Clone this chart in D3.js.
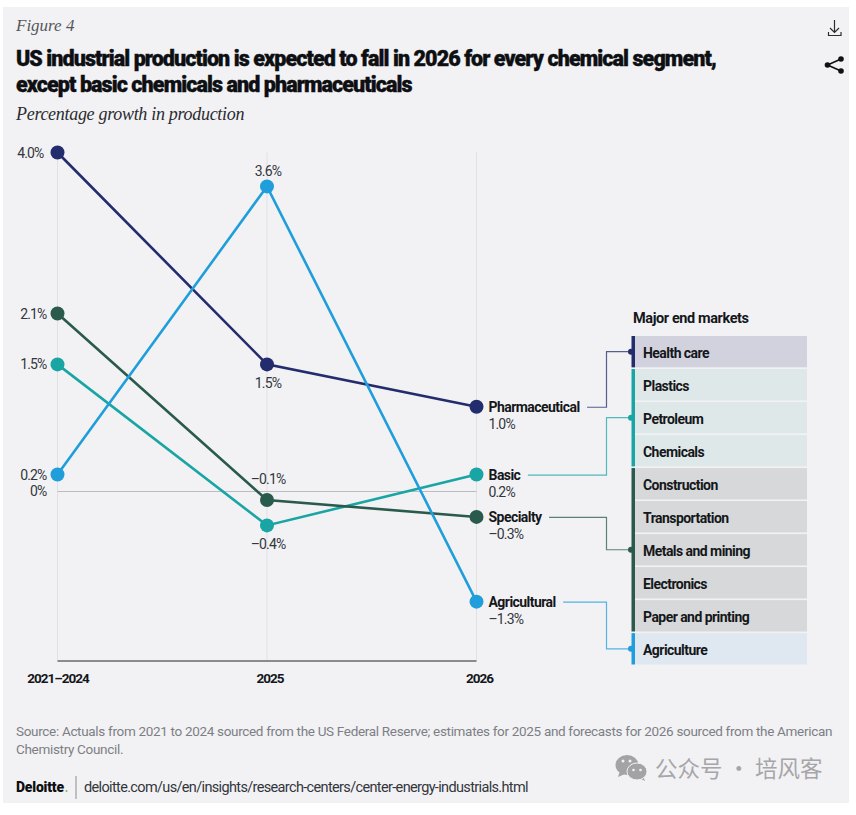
<!DOCTYPE html>
<html>
<head>
<meta charset="utf-8">
<script src="https://cdn.jsdelivr.net/npm/d3@7"></script>
<style>
  html, body { margin: 0; padding: 0; background: #fff; }
  svg { display: block; }
  text { font-family: Roboto, "Liberation Sans", sans-serif; fill: #1c1f24; }
  .serif { font-family: "Liberation Serif", serif; font-style: italic; }
  .domain { display: none; }
</style>
</head>
<body>
<svg id="chart" width="856" height="815"></svg>
<script>
// data
const periods = ["2021–2024", "2025", "2026"]
const segments = ["Pharmaceutical", "Basic", "Specialty", "Agricultural"]
const pharmaceutical = [4.0, 1.5, 1.0]
const basic = [1.5, -0.4, 0.2]
const specialty = [2.1, -0.1, -0.3]
const agricultural = [0.2, 3.6, -1.3]
const markets = ["Health care", "Plastics", "Petroleum", "Chemicals", "Construction",
  "Transportation", "Metals and mining", "Electronics", "Paper and printing", "Agriculture"]
const marketGroups = [["Health care"], ["Plastics", "Petroleum", "Chemicals"],
  ["Construction", "Transportation", "Metals and mining", "Electronics", "Paper and printing"],
  ["Agriculture"]]

const seriesValues = [pharmaceutical, basic, specialty, agricultural]
const colors = ["#232c6c", "#1aa5a5", "#2a5a4b", "#1f9edb"]
const cellFills = ["#d2d2df", "#dfe8e9", "#d6d8d9", "#dfe7f1"]
// label offsets per series: gap left of the first dot, dy of the 2025 label
const firstLabelGap = [14, 11, 11, 11]
const midLabelDy = [24, 24, -16, -10]

const svg = d3.select("#chart")

function fmt(v) {
    return (v < 0 ? "–" : "") + Math.abs(v).toFixed(1) + "%"
}

svg.append("rect").attr("x", 3).attr("y", 7).attr("width", 846).attr("height", 796).attr("fill", "#f2f2f5")

// heading
svg.append("text").attr("class", "serif").attr("x", 16).attr("y", 31)
    .attr("font-size", 17).style("fill", "#55575c").text("Figure 4")
const titleLines = ["US industrial production is expected to fall in 2026 for every chemical segment,",
    "except basic chemicals and pharmaceuticals"]
svg.selectAll(".title").data(titleLines).join("text").attr("class", "title")
    .attr("x", 16).attr("y", (d, i) => 65.5 + i * 26)
    .attr("font-size", 21.5).attr("font-weight", 900).attr("letter-spacing", -0.92)
    .attr("stroke", "#0d0f12").attr("stroke-width", 0.4)
    .style("fill", "#0d0f12").text(d => d)
svg.append("text").attr("class", "serif").attr("x", 16).attr("y", 120)
    .attr("font-size", 18).attr("letter-spacing", -0.3).style("fill", "#2a2c30").text("Percentage growth in production")

// scales
const x = d3.scalePoint().domain(periods).range([57.5, 476.5])
const y = d3.scaleLinear().domain([-2, 4]).range([661, 152.5])

// vertical guides
svg.selectAll(".guide").data(periods).join("line").attr("class", "guide")
    .attr("x1", d => x(d)).attr("x2", d => x(d))
    .attr("y1", y(4)).attr("y2", y(-2))
    .attr("stroke", "#e1e1e5").attr("stroke-width", 1)

// zero line
svg.append("line").attr("x1", x(periods[0])).attr("x2", x(periods[2]))
    .attr("y1", y(0)).attr("y2", y(0)).attr("stroke", "#bcbcc0").attr("stroke-width", 1)

const yAxis = svg.append("g").attr("transform", "translate(" + (x(periods[0]) - 11) + ",0)")
    .call(d3.axisLeft(y).tickValues([0]).tickSize(0).tickPadding(0).tickFormat(d => d + "%"))
yAxis.selectAll("text").attr("font-size", 14).attr("font-family", null)
    .attr("letter-spacing", -0.85).style("fill", "#33363b")

// x axis
const xAxis = svg.append("g").attr("transform", "translate(0," + y(-2) + ")")
    .call(d3.axisBottom(x).tickSize(0).tickPadding(12))
xAxis.selectAll("text").attr("font-size", 13.5).attr("font-weight", 700).attr("font-family", null)
    .attr("letter-spacing", -1).attr("dx", (d, i) => i > 0 ? 2.5 : 0).style("fill", "#15171a")
svg.append("line").attr("x1", x(periods[0])).attr("x2", x(periods[2]))
    .attr("y1", y(-2)).attr("y2", y(-2)).attr("stroke", "#66686c").attr("stroke-width", 1.5)

// lines and dots
const line = d3.line().x((d, i) => x(periods[i])).y(d => y(d))
svg.selectAll(".series").data(seriesValues).join("path").attr("class", "series")
    .attr("d", line).attr("fill", "none")
    .attr("stroke", (d, i) => colors[i]).attr("stroke-width", 2.6)

seriesValues.forEach(function (vals, s) {
    svg.selectAll(".dot" + s).data(vals).join("circle").attr("class", "dot" + s)
        .attr("cx", (d, i) => x(periods[i])).attr("cy", d => y(d))
        .attr("r", 7).attr("fill", colors[s])

    // first period label, left of the dot
    svg.append("text").attr("x", x(periods[0]) - firstLabelGap[s]).attr("y", y(vals[0]) + 5)
        .attr("text-anchor", "end").attr("font-size", 14).attr("letter-spacing", -0.85)
        .style("fill", "#33363b").text(fmt(vals[0]))

    // 2025 label above or below
    svg.append("text").attr("x", x(periods[1]) + 1).attr("y", y(vals[1]) + midLabelDy[s])
        .attr("text-anchor", "middle").attr("font-size", 14).attr("letter-spacing", -0.85)
        .style("fill", "#33363b").text(fmt(vals[1]))
})

// end labels
const labelX = x(periods[2]) + 12
const endNames = svg.selectAll(".endName").data(segments).join("text").attr("class", "endName")
    .attr("x", labelX).attr("y", (d, i) => y(seriesValues[i][2]) + 5)
    .attr("font-size", 14).attr("font-weight", 700).attr("letter-spacing", -0.55)
    .style("fill", "#15171a").text(d => d)
svg.selectAll(".endVal").data(segments).join("text").attr("class", "endVal")
    .attr("x", labelX).attr("y", (d, i) => y(seriesValues[i][2]) + 22.5)
    .attr("font-size", 14).attr("letter-spacing", -0.85)
    .style("fill", "#33363b").text((d, i) => fmt(seriesValues[i][2]))

// end market table
const rowY = d3.scaleBand().domain(markets).range([336, 664.5]).paddingInner(0.05)
const barX = 631.5
const cellLeft = 635
const cellRight = 807
const elbowX = 606.5

svg.append("text").attr("x", 633).attr("y", 323).attr("font-size", 14.5).attr("font-weight", 700)
    .attr("letter-spacing", -0.4).style("fill", "#15171a").text("Major end markets")

marketGroups.forEach(function (group, g) {
    svg.selectAll(".cell" + g).data(group).join("rect").attr("class", "cell" + g)
        .attr("x", cellLeft).attr("y", d => rowY(d))
        .attr("width", cellRight - cellLeft).attr("height", rowY.bandwidth())
        .attr("fill", cellFills[g])
    svg.selectAll(".cellText" + g).data(group).join("text").attr("class", "cellText" + g)
        .attr("x", 643).attr("y", d => rowY(d) + rowY.bandwidth() / 2 + 6.5)
        .attr("font-size", 14).attr("font-weight", 700).attr("letter-spacing", -0.55)
        .style("fill", "#15171a").text(d => d)

    const top = rowY(group[0])
    const bottom = rowY(group[group.length - 1]) + rowY.bandwidth()
    svg.append("rect").attr("x", barX).attr("y", top).attr("width", 3.5).attr("height", bottom - top)
        .attr("fill", colors[g])

    // connector from the end label to the middle row of the group
    const mid = group[Math.floor(group.length / 2)]
    const targetY = rowY(mid) + rowY.bandwidth() / 2
    const startY = y(seriesValues[g][2]) + 0.5
    const startX = labelX + endNames.nodes()[g].getComputedTextLength() + 7.5
    svg.append("path")
        .attr("d", "M" + startX + "," + startY + "H" + elbowX + "V" + targetY + "H" + barX)
        .attr("fill", "none").attr("stroke", colors[g]).attr("stroke-width", 1.2).attr("opacity", 0.75)
    svg.append("circle").attr("cx", barX - 0.5).attr("cy", targetY).attr("r", 3).attr("fill", colors[g])
})

// footer
const sourceLines = ["Source: Actuals from 2021 to 2024 sourced from the US Federal Reserve; estimates for 2025 and forecasts for 2026 sourced from the American",
    "Chemistry Council."]
svg.selectAll(".source").data(sourceLines).join("text").attr("class", "source")
    .attr("x", 16).attr("y", (d, i) => 736 + i * 18)
    .attr("font-size", 13.5).attr("letter-spacing", -0.32).style("fill", "#7d7f84").text(d => d)

svg.append("text").attr("x", 16).attr("y", 792).attr("font-size", 14).attr("font-weight", 900)
    .attr("letter-spacing", -0.2).style("fill", "#0d0f12").text("Deloitte")
svg.append("circle").attr("cx", 66.5).attr("cy", 791).attr("r", 1).attr("fill", "#86bc25")
svg.append("line").attr("x1", 76).attr("x2", 76).attr("y1", 776).attr("y2", 799)
    .attr("stroke", "#8a8c90").attr("stroke-width", 1)
svg.append("text").attr("x", 84).attr("y", 792).attr("font-size", 14.5).attr("letter-spacing", -0.65)
    .style("fill", "#33363b").text("deloitte.com/us/en/insights/research-centers/center-energy-industrials.html")

// watermark
const mark = svg.append("g").attr("fill", "#a3a3a6")
mark.append("path").attr("d", "M620,771L618,777L625,774Z")
mark.append("ellipse").attr("cx", 627).attr("cy", 765).attr("rx", 11.5).attr("ry", 10)
mark.append("path").attr("d", "M643,776L645,781L639,778Z")
mark.append("ellipse").attr("cx", 637).attr("cy", 771.5).attr("rx", 10).attr("ry", 8.5)
    .attr("stroke", "#f2f2f5").attr("stroke-width", 1)
const eyes = svg.append("g").attr("fill", "#f2f2f5")
eyes.selectAll("circle").data([[623, 761], [630, 761]]).join("circle")
    .attr("cx", d => d[0]).attr("cy", d => d[1]).attr("r", 1.5)
const eyes2 = svg.append("g").attr("fill", "#f2f2f5")
eyes2.selectAll("circle").data([[633.5, 770], [640.5, 770]]).join("circle")
    .attr("cx", d => d[0]).attr("cy", d => d[1]).attr("r", 1.3)
svg.append("text").attr("x", 655).attr("y", 777)
    .style("font-family", '"Noto Sans CJK SC"')
    .attr("font-size", 22.5).style("fill", "#a6a6a9").text("公众号 · 培风客")

// download and share icons
const icon = svg.append("g").attr("fill", "none").attr("stroke", "#2a2c30").attr("stroke-width", 1.2)
icon.append("path").attr("d", "M834.5,20V32M830,28L834.5,32.5L839,28M828.5,32V35.5H841V32")
const share = svg.append("g")
share.append("path").attr("d", "M841,59L827.5,65L841,71").attr("fill", "none")
    .attr("stroke", "#111").attr("stroke-width", 1.6)
share.selectAll("circle").data([[841, 59], [827.5, 65], [841, 71]]).join("circle")
    .attr("cx", d => d[0]).attr("cy", d => d[1]).attr("r", 2.8).attr("fill", "#111")
</script>
</body>
</html>
